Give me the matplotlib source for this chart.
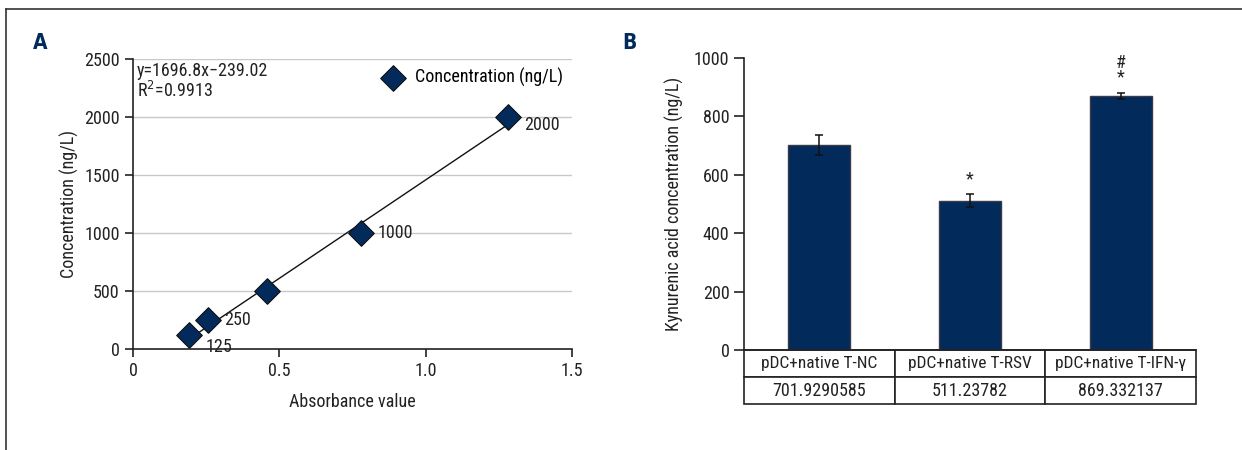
import matplotlib
matplotlib.use('Agg')
import matplotlib.pyplot as plt
from matplotlib import font_manager
from matplotlib.lines import Line2D
import numpy as np

# use a narrow face when one is installed
names = {f.name for f in font_manager.fontManager.ttflist}
narrow = [n for n in ['Liberation Sans Narrow', 'Roboto Condensed', 'Open Sans Condensed',
                      'Noto Sans Condensed', 'DejaVu Sans Condensed'] if n in names]
plt.rcParams['font.family'] = narrow[:1] + ['DejaVu Sans']
plt.rcParams['font.stretch'] = 'condensed'

NAVY = '#022a5b'
TXT = '#222222'
FS = 13

# Standard curve (A)
absorbance = [0.191, 0.256, 0.458, 0.779, 1.281]
concentration = [125, 250, 500, 1000, 2000]
point_labels = ['125', '250', '', '1000', '2000']
slope, intercept, r2 = 1696.8, -239.02, 0.9913

# Kynurenic acid (B)
groups = ['pDC+native T-NC', 'pDC+native T-RSV', 'pDC+native T-IFN-\u03b3']
kyna = [701.9290585, 511.23782, 869.332137]
kyna_err = [34, 22, 10]
kyna_text = ['701.9290585', '511.23782', '869.332137']
marks = ['', '*', '#\n*']

fig = plt.figure(figsize=(12.42, 4.5), dpi=100)

# outer frame lines
fig.add_artist(Line2D([6/1242, 1], [1-9/450, 1-9/450], color='#333333', lw=1.2))
fig.add_artist(Line2D([6/1242, 6/1242], [0, 1-9/450], color='#333333', lw=1.2))

fig.text(40/1242, 1-43/450, 'A', fontsize=15, fontweight='bold', color=NAVY,
         family='DejaVu Sans', ha='center', va='center')
fig.text(629/1242, 1-43/450, 'B', fontsize=15, fontweight='bold', color=NAVY,
         family='DejaVu Sans', ha='center', va='center')

# ---- A ----
axA = fig.add_axes([133/1242, 1-349/450, 439/1242, 290/450])
axA.set_xlim(0, 1.5)
axA.set_ylim(0, 2500)
axA.set_xticks([0, 0.5, 1.0, 1.5])
axA.set_xticklabels(['0', '0.5', '1.0', '1.5'])
axA.set_yticks(range(0, 2501, 500))
for v in range(500, 2501, 500):
    axA.axhline(v, color='#c8c8c8', lw=1, zorder=0)
for s in ['top', 'right']:
    axA.spines[s].set_visible(False)
for s in ['left', 'bottom']:
    axA.spines[s].set_color('#222222')
    axA.spines[s].set_linewidth(1.2)
axA.tick_params(length=6, width=1.2, colors='#222222', labelsize=FS, labelcolor=TXT)

xs = np.array([min(absorbance), max(absorbance)])
axA.plot(xs, slope*xs + intercept, color='#111111', lw=1, zorder=2)
axA.scatter(absorbance, concentration, marker='D', s=170, color=NAVY,
            edgecolor='#111111', linewidth=0.8, zorder=3, label='Concentration (ng/L)')
for x, y, t in zip(absorbance, concentration, point_labels):
    dy = -9 if t == '125' else (-6 if t == '2000' else 0)
    axA.annotate(t, (x, y), xytext=(12, dy), textcoords='offset points',
                 fontsize=FS, color=TXT, va='center')
axA.text(0.013, 2475, 'y=1696.8x\u2212239.02\nR$^2$=0.9913', fontsize=FS,
         color=TXT, va='top', linespacing=1.05)
axA.legend(loc='upper right', frameon=False, fontsize=FS, handletextpad=0.2,
           borderaxespad=0.1, markerscale=1.0)
axA.set_xlabel('Absorbance value', fontsize=FS, color=TXT, labelpad=9)
axA.set_ylabel('Concentration (ng/L)', fontsize=FS, color=TXT, labelpad=4)

# ---- B ----
axB = fig.add_axes([744/1242, 1-350/450, 452/1242, 292/450])
pos = np.arange(len(groups))
axB.bar(pos, kyna, width=0.41, color=NAVY, edgecolor='#3a3a48', linewidth=1,
        yerr=kyna_err, capsize=3, error_kw=dict(ecolor='#111111', elinewidth=1.1, capthick=1.1))
axB.set_xlim(-0.5, 2.5)
axB.set_ylim(0, 1000)
axB.set_yticks(range(0, 1001, 200))
axB.set_xticks([])
for s in ['top', 'right']:
    axB.spines[s].set_visible(False)
for s in ['left', 'bottom']:
    axB.spines[s].set_color('#222222')
    axB.spines[s].set_linewidth(1.2)
axB.tick_params(axis='y', length=7, width=1.2, colors='#222222', labelsize=FS, labelcolor=TXT)
axB.set_ylabel('Kynurenic acid concentration (ng/L)', fontsize=FS, color=TXT, labelpad=7)
for p, v, e, m in zip(pos, kyna, kyna_err, marks):
    if m:
        axB.text(p, v + e + 22, m, ha='center', va='bottom', fontsize=13,
                 color=TXT, linespacing=0.8)

# data table under the bars
tbl = axB.table(cellText=[groups, kyna_text], cellLoc='center',
                bbox=[0, -54/292, 1, 54/292])
tbl.auto_set_font_size(False)
for (r, c), cell in tbl.get_celld().items():
    cell.set_edgecolor('#222222')
    cell.set_linewidth(1.2)
    cell.get_text().set_fontsize(12.5 if r == 0 else FS)
    cell.get_text().set_color(TXT)
    cell.PAD = 0.02

fig.savefig('out.png', dpi=100)
